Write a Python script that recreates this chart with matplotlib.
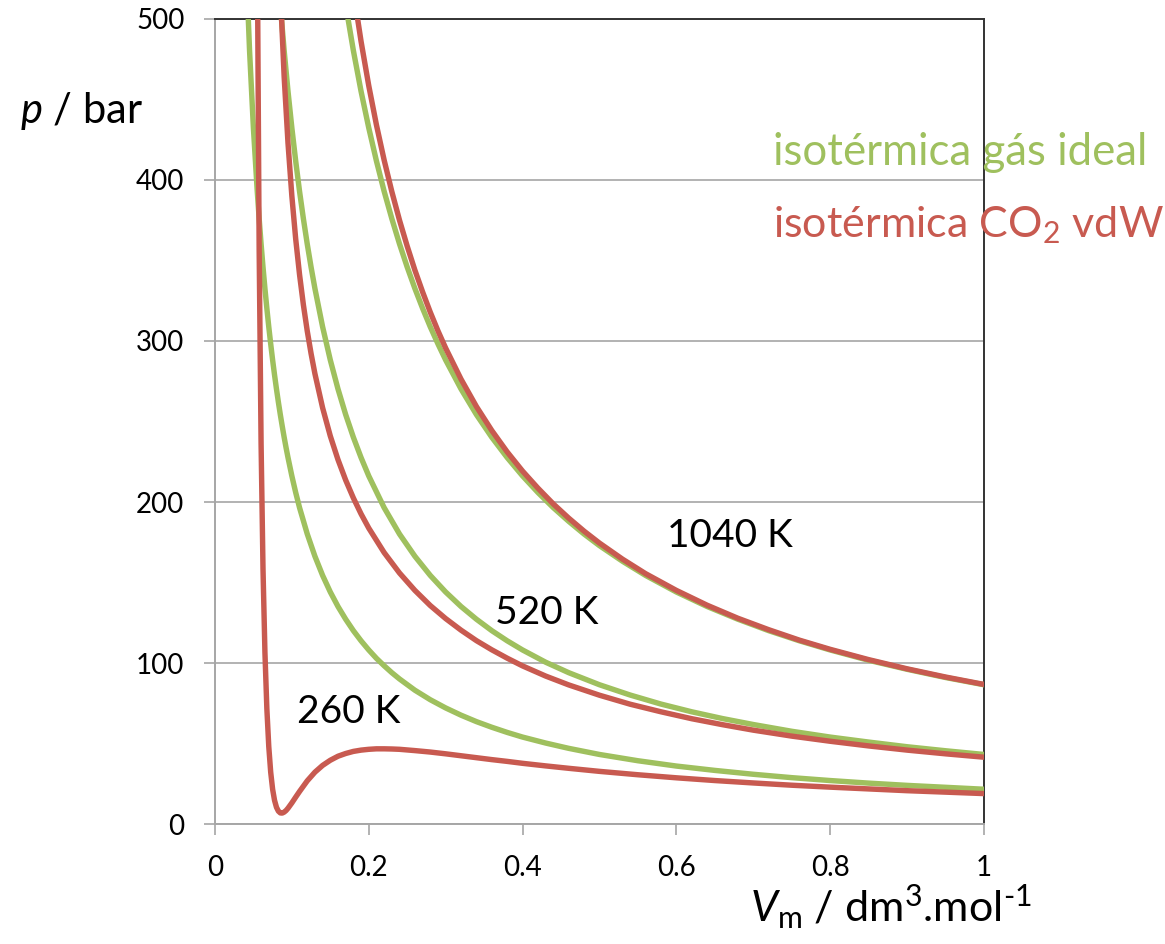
import numpy as np
import matplotlib
matplotlib.use("Agg")
import matplotlib.pyplot as plt


# molar volume (dm3/mol) and pressure (bar) along each isotherm
V_260 = [0.04, 0.045, 0.05, 0.055, 0.0575, 0.06, 0.0625, 0.065, 0.0675, 0.07,
         0.0725, 0.075, 0.0775, 0.08, 0.0825, 0.085, 0.0875, 0.09, 0.0925, 0.095,
         0.1, 0.105, 0.11, 0.12, 0.13, 0.14, 0.15, 0.16, 0.17, 0.18,
         0.19, 0.2, 0.21, 0.22, 0.23, 0.24, 0.26, 0.28, 0.3, 0.32,
         0.34, 0.36, 0.38, 0.4, 0.43, 0.46, 0.5, 0.55, 0.6, 0.65,
         0.7, 0.75, 0.8, 0.85, 0.9, 0.95, 1.0]
ideal_260 = [540.5, 480.4, 432.4, 393.1, 376.0, 360.3, 345.9, 332.6, 320.3, 308.8,
             298.2, 288.2, 278.9, 270.2, 262.0, 254.3, 247.1, 240.2, 233.7, 227.6,
             216.2, 205.9, 196.5, 180.2, 166.3, 154.4, 144.1, 135.1, 127.2, 120.1,
             113.8, 108.1, 102.9, 98.3, 94.0, 90.1, 83.1, 77.2, 72.1, 67.6,
             63.6, 60.1, 56.9, 54.0, 50.3, 47.0, 43.2, 39.3, 36.0, 33.3,
             30.9, 28.8, 27.0, 25.4, 24.0, 22.8, 21.6]
vdw_260 = [np.nan, np.nan, 1493.0, 550.0, 356.8, 236.3, 158.4, 106.6, 71.7, 48.1,
           32.2, 21.6, 14.7, 10.4, 8.0, 6.9, 6.8, 7.4, 8.4, 9.8,
           13.1, 16.7, 20.2, 26.8, 32.2, 36.4, 39.6, 42.1, 43.8, 45.1,
           45.9, 46.4, 46.7, 46.7, 46.6, 46.4, 45.6, 44.7, 43.6, 42.4,
           41.2, 40.0, 38.9, 37.7, 36.1, 34.6, 32.7, 30.6, 28.7, 27.0,
           25.5, 24.1, 22.9, 21.8, 20.7, 19.8, 18.9]

V_520 = [0.08, 0.085, 0.09, 0.095, 0.1, 0.105, 0.11, 0.115, 0.12, 0.125,
         0.13, 0.14, 0.15, 0.16, 0.17, 0.18, 0.19, 0.2, 0.22, 0.24,
         0.26, 0.28, 0.3, 0.32, 0.34, 0.36, 0.38, 0.4, 0.43, 0.46,
         0.5, 0.54, 0.58, 0.62, 0.66, 0.7, 0.75, 0.8, 0.85, 0.9,
         0.95, 1.0]
ideal_520 = [540.4, 508.6, 480.4, 455.1, 432.4, 411.8, 393.0, 376.0, 360.3, 345.9,
             332.6, 308.8, 288.2, 270.2, 254.3, 240.2, 227.6, 216.2, 196.5, 180.1,
             166.3, 154.4, 144.1, 135.1, 127.2, 120.1, 113.8, 108.1, 100.5, 94.0,
             86.5, 80.1, 74.5, 69.7, 65.5, 61.8, 57.6, 54.0, 50.9, 48.0,
             45.5, 43.2]
vdw_520 = [589.4, 517.6, 464.1, 422.9, 390.1, 363.4, 341.3, 322.5, 306.3, 292.2,
           279.7, 258.5, 241.0, 226.3, 213.6, 202.5, 192.6, 183.8, 168.6, 155.9,
           145.1, 135.7, 127.6, 120.4, 113.9, 108.2, 103.0, 98.2, 91.9, 86.4,
           80.0, 74.4, 69.7, 65.4, 61.7, 58.3, 54.6, 51.4, 48.5, 45.9,
           43.6, 41.5]

V_1040 = [0.16, 0.17, 0.18, 0.19, 0.2, 0.21, 0.22, 0.23, 0.24, 0.25,
          0.26, 0.27, 0.28, 0.29, 0.3, 0.32, 0.34, 0.36, 0.38, 0.4,
          0.42, 0.44, 0.46, 0.48, 0.5, 0.53, 0.56, 0.6, 0.64, 0.68,
          0.72, 0.76, 0.8, 0.85, 0.9, 0.95, 1.0]
ideal_1040 = [540.4, 508.7, 480.4, 455.1, 432.4, 411.8, 393.0, 376.0, 360.3, 345.9,
              332.6, 320.3, 308.8, 298.2, 288.2, 270.2, 254.3, 240.2, 227.6, 216.2,
              205.9, 196.5, 188.0, 180.1, 172.9, 163.2, 154.4, 144.1, 135.1, 127.2,
              120.1, 113.8, 108.1, 101.7, 96.1, 91.0, 86.5]
vdw_1040 = [594.8, 553.2, 517.3, 486.1, 458.6, 434.2, 412.4, 392.8, 375.0, 358.9,
            344.0, 330.5, 317.9, 306.3, 295.6, 276.3, 259.3, 244.4, 231.1, 219.2,
            208.6, 198.8, 190.0, 181.9, 174.5, 164.5, 155.5, 145.1, 135.9, 127.8,
            120.7, 114.2, 108.5, 102.1, 96.4, 91.3, 86.7]

temp_labels = ["260 K", "520 K", "1040 K"]
label_pos = [(0.107, 63), (0.364, 124), (0.588, 172)]

x_ticks = [0, 0.2, 0.4, 0.6, 0.8, 1]
x_tick_labels = ["0", "0.2", "0.4", "0.6", "0.8", "1"]
y_ticks = [0, 100, 200, 300, 400, 500]

GREEN = "#9FC05E"
RED = "#C85A50"


def main():
    plt.rcParams["font.family"] = ["Lato", "DejaVu Sans"]
    plt.rcParams["mathtext.fontset"] = "custom"
    plt.rcParams["mathtext.rm"] = "Lato"
    plt.rcParams["mathtext.it"] = "Lato:italic"

    fig = plt.figure(figsize=(11.65, 9.44), dpi=100)
    ax = fig.add_axes([0.1845, 0.1271, 0.6601, 0.8528])

    # ideal gas first, van der Waals on top
    for v, p in [(V_260, ideal_260), (V_520, ideal_520), (V_1040, ideal_1040)]:
        ax.plot(v, p, color=GREEN, lw=3.9, solid_capstyle="round",
                solid_joinstyle="round", zorder=3)
    for v, p in [(V_260, vdw_260), (V_520, vdw_520), (V_1040, vdw_1040)]:
        ax.plot(v, p, color=RED, lw=3.9, solid_capstyle="round",
                solid_joinstyle="round", zorder=4)

    ax.set_xlim(0, 1)
    ax.set_ylim(0, 500)
    ax.set_xticks(x_ticks)
    ax.set_xticklabels(x_tick_labels)
    ax.set_yticks(y_ticks)
    ax.tick_params(axis="both", direction="out", length=8, width=1.2,
                   color="#A6A6A6", labelsize=20, pad=14)

    ax.grid(axis="y", color="#A6A6A6", lw=1.2)
    ax.set_axisbelow(True)
    for side in ["left", "bottom"]:
        ax.spines[side].set_color("#A6A6A6")
        ax.spines[side].set_linewidth(1.4)
    for side in ["top", "right"]:
        ax.spines[side].set_color("#333333")
        ax.spines[side].set_linewidth(1.4)

    for text, (x, y) in zip(temp_labels, label_pos):
        ax.text(x, y, text, fontsize=28, va="baseline", ha="left", zorder=5)

    fig.text(0.0172, 0.8697, "$p$ / bar", fontsize=30, va="baseline")
    fig.text(0.6438, 0.0233, r"$V_\mathrm{m}$ / dm$^3$.mol$^{\text{-}1}$",
             fontsize=31, va="baseline")

    fig.text(0.6635, 0.8252, "isotérmica gás ideal", color=GREEN,
             fontsize=31.5, va="baseline")
    fig.text(0.6635, 0.7489, r"isotérmica C$\mathrm{O}_\mathrm{2}$ vdW", color=RED,
             fontsize=31, va="baseline")

    fig.savefig("out.png", dpi=100)


if __name__ == "__main__":
    main()
